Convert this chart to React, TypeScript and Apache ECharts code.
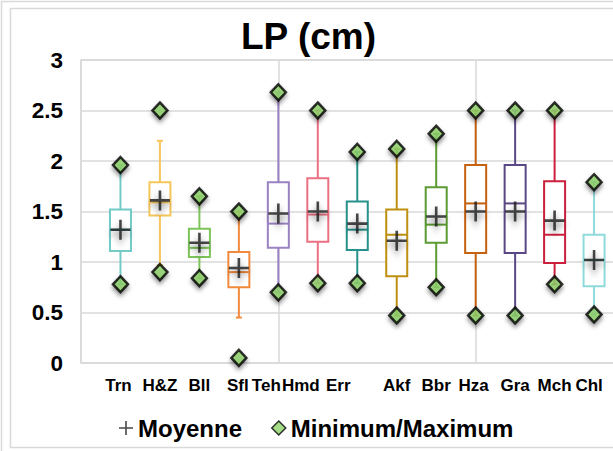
import React, { useEffect, useRef } from "react";
import * as echarts from "echarts";

const categories = ["Trn", "H&Z", "Bll", "Sfl", "Teh", "Hmd", "Err", "Akf", "Bbr", "Hza", "Gra", "Mch", "Chl"];
const minVals = [0.78, 0.9, 0.84, 0.05, 0.7, 0.79, 0.79, 0.47, 0.75, 0.47, 0.47, 0.78, 0.48];
const maxVals = [1.96, 2.5, 1.65, 1.5, 2.68, 2.5, 2.09, 2.12, 2.27, 2.5, 2.5, 2.5, 1.79];
const whiskerLow = [0.78, 0.97, 0.84, 0.45, 0.7, 0.79, 0.79, 0.47, 0.75, 0.47, 0.47, 0.78, 0.48];
const whiskerHigh = [1.96, 2.2, 1.65, 1.5, 2.68, 2.5, 2.09, 2.12, 2.27, 2.5, 2.5, 2.5, 1.79];
const q1Vals = [1.11, 1.46, 1.05, 0.75, 1.14, 1.2, 1.12, 0.86, 1.19, 1.09, 1.09, 0.99, 0.76];
const q3Vals = [1.52, 1.79, 1.33, 1.1, 1.79, 1.83, 1.6, 1.52, 1.74, 1.96, 1.96, 1.8, 1.27];
const medianVals = [1.32, 1.59, 1.14, 0.9, 1.38, 1.47, 1.32, 1.27, 1.37, 1.58, 1.58, 1.27, 1.02];
const meanVals = [1.32, 1.61, 1.19, 0.94, 1.48, 1.5, 1.38, 1.21, 1.45, 1.5, 1.5, 1.41, 1.02];
const yTicks = [0, 0.5, 1, 1.5, 2, 2.5, 3];

const boxColors = ["#72cbc7", "#f5c65c", "#7dc55a", "#f18a3d", "#9b82c2", "#ec6f82", "#27918b", "#bf900f", "#5b9b32", "#c5610f", "#5a4884", "#cb1f3c", "#8fdada"];
const labelShift = [-2, 0, 0, -1, -12, -17, -19, 0, 0, -2, 0, 0, -5];

const FONT = "'Liberation Sans', Arial, sans-serif";
const CROSS = "path://M8.7,0h2.6v8.7h8.7v2.6h-8.7v8.7h-2.6v-8.7h-8.7v-2.6h8.7z";
const CROSS_THIN = "path://M6.2,0h1.6v6.2h6.2v1.6h-6.2v6.2h-1.6v-6.2h-6.2v-1.6h6.2z";

export default function App() {
  const ref = useRef<HTMLDivElement>(null);
  useEffect(() => {
    document.body.style.margin = "0";
    if (!ref.current) return;
    const chart = echarts.init(ref.current, undefined, { renderer: "svg" });

    const xs = categories.map((_, i) => i + 1);
    const boxData = xs.map((x, i) => [x, whiskerLow[i], q1Vals[i], medianVals[i], q3Vals[i], whiskerHigh[i]]);
    const meanData = xs.map((x, i) => [x, meanVals[i]]);
    const minMaxData = xs.flatMap((x, i) => [[x, minVals[i]], [x, maxVals[i]]]);

    const rich: Record<string, any> = {};
    categories.forEach((_, i) => {
      const d = labelShift[i];
      rich["l" + i] = {
        fontSize: 17,
        fontWeight: "bold",
        fontFamily: FONT,
        color: "#000",
        padding: d < 0 ? [0, -2 * d, 0, 0] : [0, 0, 0, 2 * d],
      };
    });

    chart.setOption({
      animation: false,
      backgroundColor: "#fff",
      title: {
        text: "LP (cm)",
        left: 236,
        top: 13,
        textStyle: { fontSize: 37, fontWeight: "bold", fontFamily: FONT, color: "#000" },
      },
      legend: {
        left: 114,
        top: 411,
        itemWidth: 14,
        itemHeight: 14,
        itemGap: 29,
        textStyle: { fontSize: 24, fontWeight: "bold", fontFamily: FONT, color: "#000" },
        data: [
          { name: "Moyenne", icon: CROSS_THIN, itemStyle: { color: "#1a1a1a", shadowBlur: 0, shadowOffsetY: 0 } },
          { name: "Minimum/Maximum", icon: "diamond", itemStyle: { color: "#8ed36a", borderColor: "#000", borderWidth: 1.5, shadowBlur: 0, shadowOffsetY: 0 } },
        ],
      },
      graphic: [
        { type: "rect", shape: { x: 1.5, y: 1.5, width: 700, height: 700 }, style: { fill: "none", stroke: "#d9d9d9", lineWidth: 1.5 }, silent: true },
        { type: "rect", shape: { x: 10.5, y: 8.5, width: 700, height: 439 }, style: { fill: "none", stroke: "#d9d9d9", lineWidth: 1.5 }, silent: true },
      ],
      grid: {
        left: 81,
        top: 60,
        width: 592,
        height: 303,
        outerBoundsMode: "none",
        containLabel: false,
        show: true,
        borderColor: "#d9d9d9",
        borderWidth: 1.5,
      },
      xAxis: [
        {
          type: "value",
          min: 0,
          max: 15,
          interval: 1,
          position: "bottom",
          axisLine: { show: false },
          axisTick: { show: false },
          splitLine: { show: false },
          axisLabel: {
            margin: 14,
            formatter: (v: number) => {
              if (Math.abs(v - Math.round(v)) > 1e-6) return "";
              const i = Math.round(v) - 1;
              if (i < 0 || i >= categories.length) return "";
              return "{l" + i + "|" + categories[i] + "}";
            },
            rich,
          },
        },
        {
          type: "value",
          min: 0,
          max: 15,
          interval: 5,
          position: "bottom",
          axisLine: { show: false },
          axisTick: { show: false },
          axisLabel: { show: false },
          splitLine: { show: true, lineStyle: { color: "#d9d9d9", width: 1.5 } },
        },
      ],
      yAxis: {
        type: "value",
        min: yTicks[0],
        max: yTicks[yTicks.length - 1],
        interval: 0.5,
        axisLine: { show: false },
        axisTick: { show: false },
        axisLabel: { margin: 18, fontSize: 22.5, fontWeight: "bold", fontFamily: FONT, color: "#000" },
        splitLine: { show: true, lineStyle: { color: "#d9d9d9", width: 1.5 } },
      },
      series: [
        {
          type: "custom",
          name: "box",
          xAxisIndex: 0,
          encode: { x: 0, y: [1, 2, 3, 4, 5] },
          data: boxData,
          z: 2,
          renderItem: (params: any, api: any) => {
            const i = params.dataIndex;
            const x = api.value(0);
            const c = boxColors[i];
            const pLow = api.coord([x, api.value(1)]);
            const pQ1 = api.coord([x, api.value(2)]);
            const pMed = api.coord([x, api.value(3)]);
            const pQ3 = api.coord([x, api.value(4)]);
            const pHigh = api.coord([x, api.value(5)]);
            const cx = pQ1[0];
            const hw = 10.5;
            const cw = 3;
            const ls = { stroke: c, lineWidth: 2 };
            return {
              type: "group",
              children: [
                { type: "line", shape: { x1: cx, y1: pQ3[1], x2: cx, y2: pHigh[1] }, style: ls },
                { type: "line", shape: { x1: cx, y1: pQ1[1], x2: cx, y2: pLow[1] }, style: ls },
                { type: "line", shape: { x1: cx - cw, y1: pHigh[1], x2: cx + cw, y2: pHigh[1] }, style: ls },
                { type: "line", shape: { x1: cx - cw, y1: pLow[1], x2: cx + cw, y2: pLow[1] }, style: ls },
                {
                  type: "rect",
                  shape: { x: cx - hw, y: pQ3[1], width: 2 * hw, height: pQ1[1] - pQ3[1] },
                  style: { fill: "#fff", stroke: c, lineWidth: 2 },
                },
                { type: "line", shape: { x1: cx - hw, y1: pMed[1], x2: cx + hw, y2: pMed[1] }, style: ls },
              ],
            };
          },
        },
        {
          type: "scatter",
          name: "Moyenne",
          xAxisIndex: 0,
          data: meanData,
          symbol: CROSS,
          symbolSize: 20,
          z: 3,
          itemStyle: { color: "#1a1a1a", shadowBlur: 6, shadowOffsetY: 4, shadowColor: "rgba(0,0,0,0.55)" },
        },
        {
          type: "scatter",
          name: "Minimum/Maximum",
          xAxisIndex: 0,
          data: minMaxData,
          symbol: "diamond",
          symbolSize: [15, 16],
          z: 4,
          itemStyle: { color: "#8ed36a", borderColor: "#000", borderWidth: 2.5, shadowBlur: 4, shadowOffsetY: 3, shadowColor: "rgba(0,0,0,0.5)" },
        },
      ],
    });
    return () => chart.dispose();
  }, []);
  return <div ref={ref} style={{ width: 613, height: 451 }} />;
}
